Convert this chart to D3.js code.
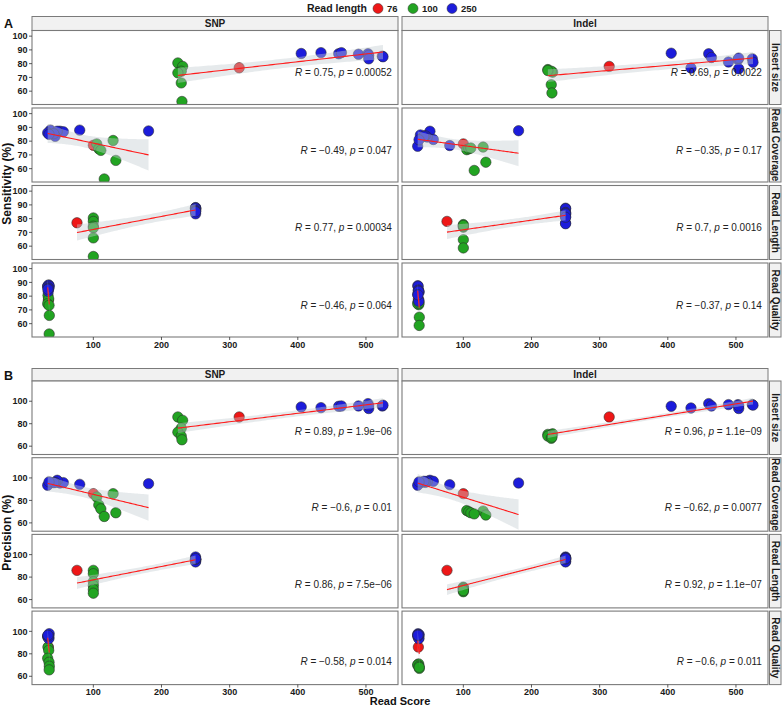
<!DOCTYPE html>
<html><head><meta charset="utf-8">
<script src="https://cdn.jsdelivr.net/npm/d3@7"></script>
<style>
body{margin:0;background:#fff;}
svg{display:block;font-family:"Liberation Sans",Arial,Helvetica,sans-serif;}
</style>
</head><body>
<svg id="c" width="784" height="708"></svg>
<script>
// ---------- data (17 samples) ----------
const readLength = [76, 100, 100, 100, 100, 100, 100, 250, 250, 250, 250, 250, 250, 250, 250, 250, 250];
const insertSize = [314, 224, 231, 229, 224, 229, 230, 405, 434, 460, 464, 489, 503, 504, 504, 524, 525];
const coverage   = [100, 129, 105, 108, 111, 133, 116, 181, 80, 51, 37, 56, 47, 33, 44, 42, 35];
const quality    = [34.0, 33.5, 34.5, 33.0, 35.0, 35.4, 35.2, 33.2, 34.8, 33.6, 34.2, 33.0, 35.2, 34.6, 33.8, 34.4, 33.4];
const snpSens    = [77, 80.5, 78, 74.5, 73.3, 66, 52.5, 87.4, 88.0, 87.2, 88.0, 86.8, 87.2, 86.0, 83.5, 85.4, 85.0];
const indelSens  = [78, 75.7, 73.8, 74.5, 75.0, 64.7, 58.7, 87.6, 76.8, 87.2, 84.5, 81.2, 83.0, 76.3, 84.0, 83.5, 81.0];
const snpPrec    = [86, 86, 83, 76, 72.5, 69, 65.7, 94.9, 94.3, 95.5, 95.8, 95.8, 97.9, 93.5, 96.0, 95.8, 96.5];
const indelPrec  = [86, 70.5, 71, 70, 69, 67, 68, 95.5, 94, 97.9, 95.8, 97, 97, 93.5, 96, 97, 96.5];

const metrics = ["Insert size", "Read Coverage", "Read Length", "Read Quality"];
const metricValues = [insertSize, coverage, readLength, quality];
const variantTypes = ["SNP", "Indel"];
const lengthLevels = [76, 100, 250];
const lengthColors = ["#ee1717", "#22a422", "#1c1cdb"];
const xTicks = [100, 200, 300, 400, 500];
const yTicksA = [60, 70, 80, 90, 100];
const yTicksB = [60, 80, 100];
// R, p labels [row][col]
const statsA = [[["0.75","0.00052"],["0.69","0.0022"]],
                [["\u22120.49","0.047"],["\u22120.35","0.17"]],
                [["0.77","0.00034"],["0.7","0.0016"]],
                [["\u22120.46","0.064"],["\u22120.37","0.14"]]];
const statsB = [[["0.89","1.9e\u221206"],["0.96","1.1e\u221209"]],
                [["\u22120.6","0.01"],["\u22120.62","0.0077"]],
                [["0.86","7.5e\u221206"],["0.92","1.1e\u221207"]],
                [["\u22120.58","0.014"],["\u22120.6","0.011"]]];

// ---------- layout ----------
const svg = d3.select("#c");
const colX = [32, 402];
const panelW = 366;
const stripRX = 769.5, stripRW = 11.5;
const x = d3.scaleLinear().domain([10, 547]).range([0, panelW]);
const colorOf = d3.scaleOrdinal().domain(lengthLevels).range(lengthColors);
const T975 = 2.131;

const blocks = [
  {label:"A", title:"Sensitivity (%)", values:[snpSens, indelSens], stats:statsA,
   yDomain:[50.3, 104.1], yTicks:yTicksA, stripTop:16.5, rowTop:30.5, rowStep:77.5, rowH:74},
  {label:"B", title:"Precision (%)", values:[snpPrec, indelPrec], stats:statsB,
   yDomain:[52.6, 118], yTicks:yTicksB, stripTop:368.5, rowTop:381, rowStep:76.7, rowH:73.5}
];

function fit(xs, ys) {
  const n = xs.length, mx = d3.mean(xs), my = d3.mean(ys);
  let sxx = 0, sxy = 0;
  for (let i = 0; i < n; i++) { sxx += (xs[i]-mx)**2; sxy += (xs[i]-mx)*(ys[i]-my); }
  const b = sxy / sxx, a = my - b*mx;
  let sse = 0;
  for (let i = 0; i < n; i++) sse += (ys[i] - a - b*xs[i])**2;
  const s = Math.sqrt(sse / (n-2));
  const [x0, x1] = d3.extent(xs);
  return d3.range(81).map(k => {
    const xv = x0 + (x1-x0)*k/80, yh = a + b*xv;
    const se = s*Math.sqrt(1/n + (xv-mx)**2/sxx);
    return {x:xv, y:yh, lo:yh - T975*se, hi:yh + T975*se};
  });
}

// legend
const lg = svg.append("g");
lg.append("text").attr("x", 367).attr("y", 12).attr("text-anchor","end")
  .attr("font-size", 10.5).attr("font-weight","bold").attr("fill","#1a1a1a").text("Read length");
const legX = [378, 413, 452];
lengthLevels.forEach((lv, i) => {
  lg.append("circle").attr("cx", legX[i]).attr("cy", 8.5).attr("r", 5)
    .attr("fill", colorOf(lv)).attr("stroke","#333").attr("stroke-width",0.5);
  lg.append("text").attr("x", legX[i]+9).attr("y", 12).attr("font-size", 9.5)
    .attr("font-weight","bold").attr("fill","#1a1a1a").text(lv);
});

const defs = svg.append("defs");
let clipId = 0;

blocks.forEach((B, bi) => {
  const g = svg.append("g");
  g.append("text").attr("x", 4).attr("y", B.stripTop + 11).attr("font-size", 12.5)
    .attr("font-weight","bold").attr("fill","#111").text(B.label);
  variantTypes.forEach((vt, ci) => {
    g.append("rect").attr("x", colX[ci]).attr("y", B.stripTop).attr("width", panelW)
      .attr("height", B.rowTop - B.stripTop).attr("fill","#f1f1f1").attr("stroke","#7a7a7a").attr("stroke-width",1);
    g.append("text").attr("x", colX[ci] + panelW/2).attr("y", (B.stripTop + B.rowTop)/2 + 3.5)
      .attr("text-anchor","middle").attr("font-size", 10).attr("font-weight","bold").attr("fill","#1a1a1a").text(vt);
  });
  const lastBottom = B.rowTop + 3*B.rowStep + B.rowH;
  const midY = (B.rowTop + lastBottom)/2;
  g.append("text").attr("transform", `translate(11,${midY}) rotate(-90)`).attr("text-anchor","middle")
    .attr("font-size", 12).attr("font-weight","bold").attr("fill","#111").text(B.title);

  metrics.forEach((m, ri) => {
    const top = B.rowTop + ri*B.rowStep;
    const y = d3.scaleLinear().domain(B.yDomain).range([top + B.rowH, top]);
    const xs = metricValues[ri];
    g.append("rect").attr("x", stripRX).attr("y", top).attr("width", stripRW).attr("height", B.rowH)
      .attr("fill","#f1f1f1").attr("stroke","#7a7a7a").attr("stroke-width",1);
    g.append("text").attr("transform", `translate(${stripRX + stripRW/2 - 3.5},${top + B.rowH/2}) rotate(90)`)
      .attr("text-anchor","middle").attr("font-size", 10).attr("font-weight","bold").attr("fill","#1a1a1a").text(m);

    variantTypes.forEach((vt, ci) => {
      const ys = B.values[ci];
      const px = colX[ci];
      const id = "clip" + (clipId++);
      defs.append("clipPath").attr("id", id).append("rect")
        .attr("x", 0).attr("y", top).attr("width", panelW).attr("height", B.rowH);
      const pg = g.append("g").attr("transform", `translate(${px},0)`);
      pg.append("rect").attr("x",0).attr("y",top).attr("width",panelW).attr("height",B.rowH).attr("fill","#fff");
      const inner = pg.append("g").attr("clip-path", `url(#${id})`);
      const pts = xs.map((xv, i) => ({x:xv, y:ys[i], c:readLength[i]}));
      inner.selectAll("circle").data(pts).join("circle")
        .attr("cx", d => x(d.x)).attr("cy", d => y(d.y)).attr("r", 5.2)
        .attr("fill", d => colorOf(d.c)).attr("stroke","#2a2a2a").attr("stroke-width",0.55);
      const f = fit(xs, ys);
      inner.append("path").datum(f)
        .attr("d", d3.area().x(d => x(d.x)).y0(d => y(d.lo)).y1(d => y(d.hi)))
        .attr("fill","#c4ccd2").attr("fill-opacity",0.42);
      inner.append("path").datum(f)
        .attr("d", d3.line().x(d => x(d.x)).y(d => y(d.y)))
        .attr("fill","none").attr("stroke","#ff1a1a").attr("stroke-width",1.1);
      const st = B.stats[ri][ci];
      const t = pg.append("text").attr("x", x(538)).attr("y", y(73.5) + 3.6)
        .attr("text-anchor","end").attr("font-size", 10).attr("fill","#222");
      t.append("tspan").attr("font-style","italic").text("R");
      t.append("tspan").text(` = ${st[0]}, `);
      t.append("tspan").attr("font-style","italic").text("p");
      t.append("tspan").text(` = ${st[1]}`);
      pg.append("rect").attr("x",0).attr("y",top).attr("width",panelW).attr("height",B.rowH)
        .attr("fill","none").attr("stroke","#7a7a7a").attr("stroke-width",1.1);
      if (ci === 0) {
        B.yTicks.forEach(tv => {
          pg.append("line").attr("x1",-3).attr("x2",0).attr("y1",y(tv)).attr("y2",y(tv))
            .attr("stroke","#333").attr("stroke-width",0.8);
          pg.append("text").attr("x",-4.5).attr("y",y(tv)+3.2).attr("text-anchor","end")
            .attr("font-size",9).attr("font-weight","bold").attr("fill","#1a1a1a").text(tv);
        });
      }
      if (ri === 3) {
        const bot = top + B.rowH;
        xTicks.forEach(tv => {
          pg.append("line").attr("x1",x(tv)).attr("x2",x(tv)).attr("y1",bot).attr("y2",bot+3)
            .attr("stroke","#333").attr("stroke-width",0.8);
          pg.append("text").attr("x",x(tv)).attr("y",bot+10.5).attr("text-anchor","middle")
            .attr("font-size",9).attr("font-weight","bold").attr("fill","#1a1a1a").text(tv);
        });
      }
    });
  });
});

svg.append("text").attr("x", 400).attr("y", 705).attr("text-anchor","middle")
  .attr("font-size", 11).attr("font-weight","bold").attr("fill","#111").text("Read Score");
</script>
</body></html>
